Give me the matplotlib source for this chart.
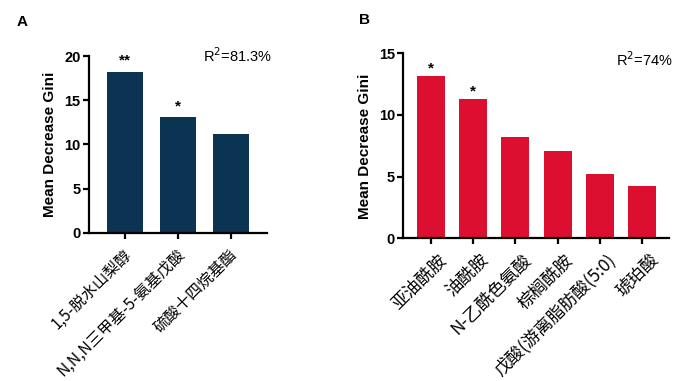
import matplotlib
matplotlib.use("Agg")
import matplotlib.pyplot as plt
from matplotlib.transforms import ScaledTranslation

plt.rcParams['font.family'] = ['Noto Sans CJK SC', 'DejaVu Sans']

# panel A data
names_a = ['1,5-脱水山梨醇', 'N,N,N三甲基-5-氨基戊酸', '硫酸十四烷基酯']
gini_a = [18.2, 13.1, 11.2]
stars_a = ['**', '*', '']

# panel B data
names_b = ['亚油酰胺', '油酰胺', 'N-乙酰色氨酸', '棕榈酰胺', '戊酸(游离脂肪酸(5:0)', '琥珀酸']
gini_b = [13.2, 11.3, 8.2, 7.05, 5.25, 4.27]
stars_b = ['*', '*', '', '', '', '']

fig = plt.figure(figsize=(6.93, 3.81), dpi=100)


def draw_panel(ax, names, vals, stars, color, ymax, yticks, width, xlim,
               lab_size, lab_dx, star_dy, ylab_x):
    x = range(len(vals))
    ax.bar(x, vals, width=width, color=color)
    for i, s in enumerate(stars):
        if s:
            t = ax.text(i, vals[i], s, ha='center', va='center',
                        fontsize=11, fontweight='bold', family='Liberation Sans')
            t.set_transform(ax.transData +
                            ScaledTranslation(0, star_dy / 100, fig.dpi_scale_trans))
    ax.set_xlim(*xlim)
    ax.set_ylim(0, ymax)
    ax.set_yticks(yticks)
    ax.set_xticks(list(x))
    for side in ['top', 'right']:
        ax.spines[side].set_visible(False)
    for side in ['left', 'bottom']:
        ax.spines[side].set_linewidth(1.6)
    ax.tick_params(width=1.6, length=4.5, direction='out')
    ax.tick_params(axis='y', pad=1.5)
    ax.tick_params(axis='x', pad=9)
    ax.set_xticklabels(names, rotation=45, ha='right', va='center',
                       rotation_mode='anchor', fontsize=lab_size)
    for lab in ax.get_xticklabels():
        lab.set_transform(lab.get_transform() +
                          ScaledTranslation(lab_dx / 100, 0, fig.dpi_scale_trans))
    for lab in ax.get_yticklabels():
        lab.set_fontweight('bold')
        lab.set_family('Liberation Sans')
        lab.set_fontsize(10.5)
    ax.set_ylabel('Mean Decrease Gini', fontsize=11, fontweight='bold',
                  family='Liberation Sans')
    ax.yaxis.set_label_coords(ylab_x, 0.5)


ax1 = fig.add_axes([0.1284, 0.3885, 0.2566, 0.4645])
draw_panel(ax1, names_a, gini_a, stars_a, '#0b3352', 20, [0, 5, 10, 15, 20],
           0.68, (-0.68, 2.68), 11.3, 4, 11, -0.18)

ax2 = fig.add_axes([0.582, 0.3745, 0.383, 0.4855])
draw_panel(ax2, names_b, gini_b, stars_b, '#dd0f31', 15, [0, 5, 10, 15],
           0.66, (-0.65, 5.63), 12.5, 13, 7, -0.118)

fig.text(272 / 693, 1 - 56 / 381, 'R$^2$=81.3%', ha='right', va='center',
         fontsize=10.5, family='Liberation Sans')
fig.text(673 / 693, 1 - 60 / 381, 'R$^2$=74%', ha='right', va='center',
         fontsize=10.5, family='Liberation Sans')

fig.text(17 / 693, 1 - 22 / 381, 'A', fontsize=11, fontweight='bold',
         family='Liberation Sans', va='center')
fig.text(359 / 693, 1 - 20 / 381, 'B', fontsize=11, fontweight='bold',
         family='Liberation Sans', va='center')

fig.savefig('out.png', dpi=100)
